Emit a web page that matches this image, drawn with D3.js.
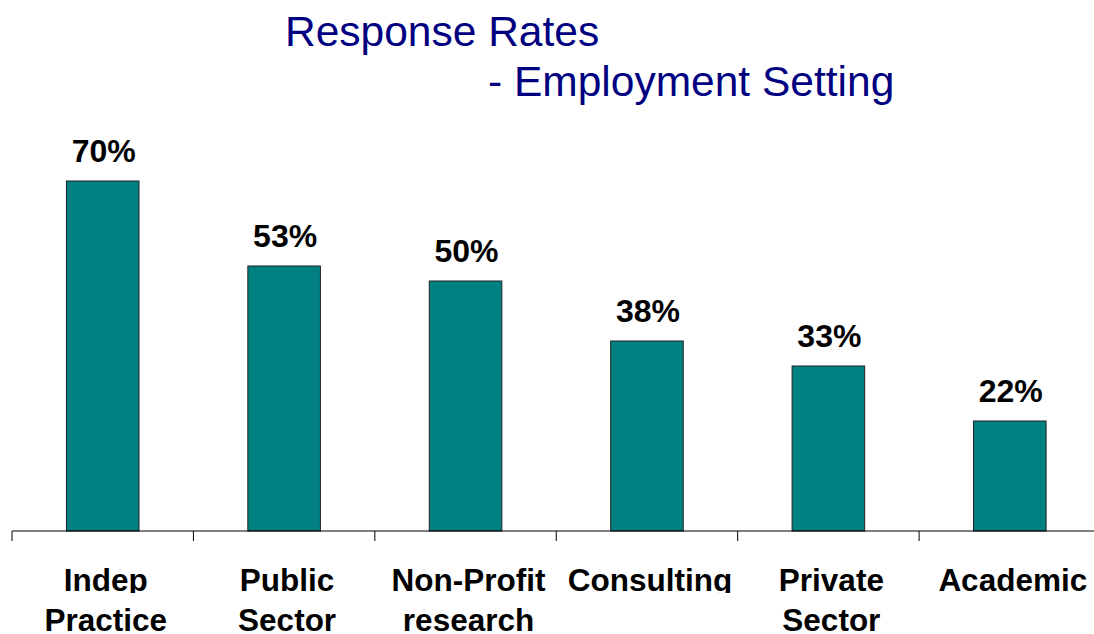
<!DOCTYPE html>
<html>
<head>
<meta charset="utf-8">
<script src="https://cdn.jsdelivr.net/npm/d3@7/dist/d3.min.js"></script>
<style>
  html, body { margin: 0; padding: 0; background: #fff; }
  svg { display: block; }
</style>
</head>
<body>
<svg id="chart" width="1094" height="634"></svg>
<script>
// Response rate by employment setting (percent)
const categories = [
  ["Indep", "Practice"],
  ["Public", "Sector"],
  ["Non-Profit", "research"],
  ["Consulting"],
  ["Private", "Sector"],
  ["Academic"]
];
const rates = [70, 53, 50, 38, 33, 22];
const titleLines = ["Response Rates", "- Employment Setting"];

const svg = d3.select("#chart");
const font = "'Liberation Sans', Arial, Helvetica, sans-serif";

const x = d3.scaleBand()
  .domain(categories.map((d, i) => i))
  .range([12, 1100.5])
  .paddingInner(0.6)
  .paddingOuter(0.3);

const y = d3.scaleLinear().domain([0, 70]).range([531, 181]);

// Title
svg.append("text")
  .attr("x", 285).attr("y", 46)
  .attr("font-family", font).attr("font-size", 42.5)
  .attr("fill", "#000080")
  .text(titleLines[0]);
svg.append("text")
  .attr("x", 488).attr("y", 96)
  .attr("font-family", font).attr("font-size", 42.5)
  .attr("fill", "#000080")
  .text(titleLines[1]);

// Bars
svg.selectAll("rect.bar")
  .data(rates)
  .join("rect")
  .attr("class", "bar")
  .attr("x", (d, i) => x(i))
  .attr("y", d => y(d))
  .attr("width", x.bandwidth())
  .attr("height", d => y(0) - y(d))
  .attr("fill", "#008080")
  .attr("stroke", "#222")
  .attr("stroke-width", 1);

// Value labels
svg.selectAll("text.val")
  .data(rates)
  .join("text")
  .attr("class", "val")
  .attr("x", (d, i) => x(i) + x.bandwidth() / 2 + 1)
  .attr("y", d => y(d) - 19)
  .attr("text-anchor", "middle")
  .attr("font-family", font).attr("font-weight", "bold").attr("font-size", 32)
  .attr("fill", "#000")
  .text(d => d + "%");

// Category axis: baseline with ticks between groups
const step = x.step();
const axis = d3.axisBottom(x).tickSize(0).tickFormat(() => "");
const gAxis = svg.append("g").attr("transform", "translate(0,531)").call(axis);
gAxis.select(".domain").attr("stroke", "#000").attr("stroke-width", 1.2)
  .attr("d", "M12,0H1100.5");
gAxis.selectAll("line.sep")
  .data(d3.range(categories.length + 1))
  .join("line")
  .attr("class", "sep")
  .attr("x1", i => x(0) + x.bandwidth() / 2 - step / 2 + i * step)
  .attr("x2", i => x(0) + x.bandwidth() / 2 - step / 2 + i * step)
  .attr("y1", 0).attr("y2", 10)
  .attr("stroke", "#000").attr("stroke-width", 1);

// Category labels (first line is clipped just under its baseline)
svg.append("clipPath").attr("id", "line1clip")
  .append("rect").attr("x", 0).attr("y", 540).attr("width", 1094).attr("height", 53);

const labels = svg.append("g");
categories.forEach((lines, i) => {
  const cx = x(i) + x.bandwidth() / 2 + 3;
  lines.forEach((t, j) => {
    labels.append("text")
      .attr("x", cx)
      .attr("y", 591 + j * 40)
      .attr("text-anchor", "middle")
      .attr("font-family", font).attr("font-weight", "bold").attr("font-size", 31.5)
      .attr("fill", "#000")
      .attr("clip-path", j === 0 ? "url(#line1clip)" : null)
      .text(t);
  });
});
</script>
</body>
</html>
